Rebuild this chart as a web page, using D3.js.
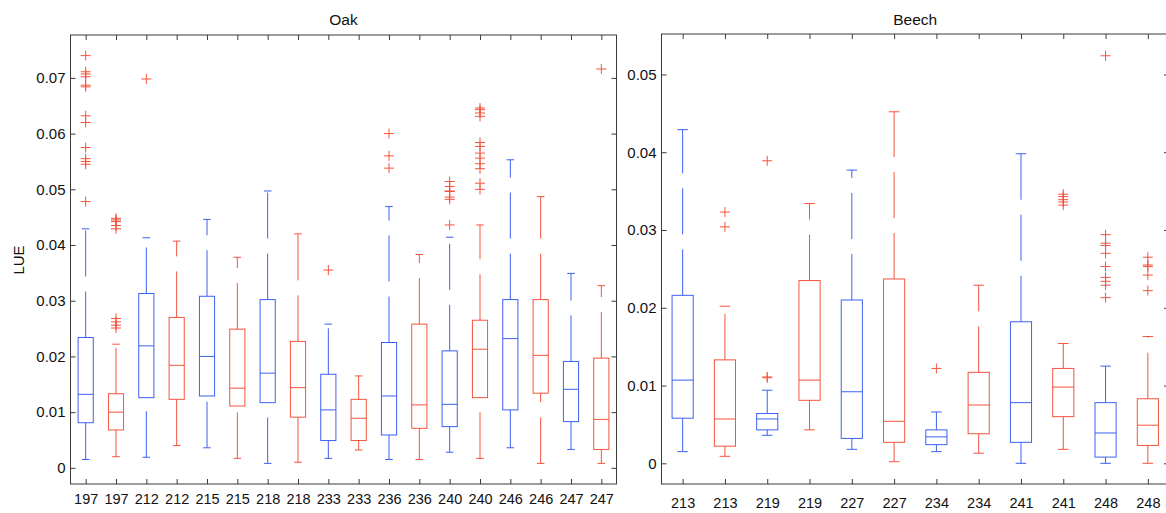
<!DOCTYPE html>
<html><head><meta charset="utf-8">
<script src="https://cdn.jsdelivr.net/npm/d3@7"></script>
<style>
body{margin:0;background:#fff}
svg{display:block}
text{font-family:"Liberation Sans",Arial,Helvetica,sans-serif;fill:#111}
</style>
</head><body>
<svg id="chart" width="1166" height="513"></svg>
<script>
// ---------- data ----------
const seriesKeys = ["first", "second"]; // alternating boxes
const seriesColors = ["#3d60f2", "#f5533d"];

const oakLabels = ["197","197","212","212","215","215","218","218","233","233","236","236","240","240","246","246","247","247"];
const oakLowAdj  = [0.0015,0.0020,0.0019,0.0040,0.0036,0.0017,0.0008,0.0010,0.0017,0.0032,0.0015,0.0015,0.0028,0.0017,0.0036,0.0008,0.0033,0.0008];
const oakQ1      = [0.0081,0.0068,0.0126,0.0123,0.0129,0.0111,0.0117,0.0091,0.0049,0.0049,0.0059,0.0071,0.0074,0.0126,0.0104,0.0134,0.0083,0.0033];
const oakMedian  = [0.0132,0.0100,0.0219,0.0184,0.0200,0.0143,0.0170,0.0144,0.0104,0.0089,0.0129,0.0113,0.0114,0.0213,0.0232,0.0202,0.0141,0.0087];
const oakQ3      = [0.0234,0.0133,0.0313,0.0270,0.0308,0.0249,0.0302,0.0227,0.0168,0.0123,0.0225,0.0258,0.0210,0.0265,0.0302,0.0302,0.0191,0.0197];
const oakHighAdj = [0.0429,0.0222,0.0413,0.0407,0.0446,0.0378,0.0497,0.0420,0.0258,0.0165,0.0469,0.0383,0.0414,0.0436,0.0553,0.0487,0.0349,0.0327];
const oakOutliers = [
  [0.0740,0.0711,0.0707,0.0702,0.0687,0.0684,0.0632,0.0620,0.0575,0.0555,0.0550,0.0545,0.0478],
  [0.0448,0.0445,0.0442,0.0435,0.0429,0.0268,0.0262,0.0256,0.0251],
  [0.0698],
  [], [], [], [], [],
  [0.0355],
  [],
  [0.0600,0.0560,0.0538],
  [],
  [0.0514,0.0505,0.0497,0.0496,0.0486,0.0482,0.0436],
  [0.0646,0.0643,0.0637,0.0631,0.0584,0.0577,0.0565,0.0556,0.0546,0.0537,0.0511,0.0500],
  [], [], [],
  [0.0716]
];
const oakYTicks = [0, 0.01, 0.02, 0.03, 0.04, 0.05, 0.06, 0.07];
const oakYTickLabels = ["0","0.01","0.02","0.03","0.04","0.05","0.06","0.07"];
const oakYDomain = [-0.0029, 0.0777];

const beechLabels = ["213","213","219","219","227","227","234","234","241","241","248","248"];
const beechLowAdj  = [0.0015,0.0009,0.0036,0.0043,0.0018,0.0002,0.0015,0.0013,0.0000,0.0018,0.0000,0.0000];
const beechQ1      = [0.0058,0.0022,0.0043,0.0081,0.0032,0.0027,0.0024,0.0038,0.0027,0.0060,0.0008,0.0023];
const beechMedian  = [0.0107,0.0057,0.0057,0.0107,0.0092,0.0054,0.0034,0.0075,0.0078,0.0098,0.0039,0.0049];
const beechQ3      = [0.0216,0.0133,0.0064,0.0235,0.0210,0.0237,0.0043,0.0117,0.0182,0.0122,0.0078,0.0083];
const beechHighAdj = [0.0429,0.0202,0.0094,0.0334,0.0377,0.0452,0.0066,0.0229,0.0398,0.0154,0.0125,0.0163];
const beechOutliers = [
  [],
  [0.0323,0.0304],
  [0.0389,0.0111,0.0110],
  [], [], [],
  [0.0122],
  [], [],
  [0.0346,0.0343,0.0339,0.0336,0.0332],
  [0.0524,0.0294,0.0283,0.0280,0.0270,0.0253,0.0239,0.0234,0.0229,0.0213],
  [0.0265,0.0255,0.0253,0.0242,0.0222]
];
const beechYTicks = [0, 0.01, 0.02, 0.03, 0.04, 0.05];
const beechYTickLabels = ["0","0.01","0.02","0.03","0.04","0.05"];
const beechYDomain = [-0.00266, 0.0552];

// ---------- drawing ----------
const svg = d3.select("#chart");
const axisColor = "#3a3a3a";
const color = d3.scaleOrdinal().domain(seriesKeys).range(seriesColors);

function drawPanel(cfg) {
  const n = cfg.labels.length;
  const top = cfg.top, bottom = 484;
  const x = d3.scaleLinear().domain([0.5, n + 0.5]).range([cfg.left, cfg.right]);
  const y = d3.scaleLinear().domain(cfg.yDomain).range([bottom, top]);
  const g = svg.append("g");
  const pos = d3.range(1, n + 1);
  const bw = 0.25, cw = 0.125;

  const boxes = pos.map((p, i) => ({
    p, i, key: seriesKeys[i % 2],
    lo: cfg.low[i], q1: cfg.q1[i], med: cfg.med[i], q3: cfg.q3[i], hi: cfg.high[i],
    out: cfg.outliers[i]
  }));

  const bg = g.selectAll("g.box").data(boxes).join("g").attr("class", "box")
    .attr("fill", "none").attr("stroke-width", 1);

  // whiskers (dashed, drawn bottom to top)
  bg.append("line")
    .attr("x1", d => x(d.p)).attr("x2", d => x(d.p))
    .attr("y1", d => y(d.q3)).attr("y2", d => y(d.hi))
    .attr("stroke", d => color(d.key)).attr("stroke-dasharray", "46,15");
  bg.append("line")
    .attr("x1", d => x(d.p)).attr("x2", d => x(d.p))
    .attr("y1", d => y(d.lo)).attr("y2", d => y(d.q1))
    .attr("stroke", d => color(d.key)).attr("stroke-dasharray", "46,15");
  // caps
  bg.append("line")
    .attr("x1", d => x(d.p - cw)).attr("x2", d => x(d.p + cw))
    .attr("y1", d => y(d.hi)).attr("y2", d => y(d.hi))
    .attr("stroke", d => color(d.key));
  bg.append("line")
    .attr("x1", d => x(d.p - cw)).attr("x2", d => x(d.p + cw))
    .attr("y1", d => y(d.lo)).attr("y2", d => y(d.lo))
    .attr("stroke", d => color(d.key));
  // box
  bg.append("rect")
    .attr("x", d => x(d.p - bw)).attr("width", d => x(d.p + bw) - x(d.p - bw))
    .attr("y", d => y(d.q3)).attr("height", d => y(d.q1) - y(d.q3))
    .attr("stroke", d => color(d.key));
  // median
  bg.append("line")
    .attr("x1", d => x(d.p - bw)).attr("x2", d => x(d.p + bw))
    .attr("y1", d => y(d.med)).attr("y2", d => y(d.med))
    .attr("stroke", d => color(d.key));
  // outliers
  bg.selectAll("path.out").data(d => d.out.map(v => ({p: d.p, v}))).join("path")
    .attr("class", "out")
    .attr("d", o => { const cx = x(o.p), cy = y(o.v);
      return `M${cx - 5},${cy}H${cx + 5}M${cx},${cy - 5}V${cy + 5}`; })
    .attr("stroke", seriesColors[1]).attr("fill", "none");

  // axes
  const styleAxis = sel => {
    sel.select(".domain").remove();
    sel.selectAll(".tick line").attr("stroke", axisColor);
    sel.selectAll(".tick text").attr("fill", "#111").attr("font-family", '"Liberation Sans",Arial,sans-serif');
  };
  g.append("g").attr("transform", `translate(${cfg.left},0)`)
    .call(d3.axisLeft(y).tickValues(cfg.yTicks).tickFormat((d, i) => cfg.yTickLabels[i]).tickSize(-5).tickPadding(5))
    .call(styleAxis).selectAll("text").attr("font-size", 15);
  g.append("g").attr("transform", `translate(${cfg.right},0)`)
    .call(d3.axisRight(y).tickValues(cfg.yTicks).tickFormat("").tickSize(-5))
    .call(styleAxis);
  g.append("g").attr("transform", `translate(0,${bottom})`)
    .call(d3.axisBottom(x).tickValues(pos).tickFormat((d, i) => cfg.labels[i]).tickSize(-5).tickPadding(cfg.xPad))
    .call(styleAxis).selectAll("text").attr("font-size", 14.5);
  g.append("g").attr("transform", `translate(0,${top})`)
    .call(d3.axisTop(x).tickValues(pos).tickFormat("").tickSize(-5))
    .call(styleAxis);
  g.append("rect").attr("x", cfg.left).attr("y", top)
    .attr("width", cfg.right - cfg.left).attr("height", bottom - top)
    .attr("fill", "none").attr("stroke", axisColor).attr("stroke-width", 1);

  g.append("text").attr("x", (cfg.left + cfg.right) / 2).attr("y", 25)
    .attr("text-anchor", "middle").attr("font-size", 15.5).text(cfg.title);
}

drawPanel({title: "Oak", labels: oakLabels, low: oakLowAdj, q1: oakQ1, med: oakMedian, q3: oakQ3,
  high: oakHighAdj, outliers: oakOutliers, yTicks: oakYTicks, yTickLabels: oakYTickLabels,
  yDomain: oakYDomain, left: 70.5, right: 616.5, top: 35, xPad: 10});
drawPanel({title: "Beech", labels: beechLabels, low: beechLowAdj, q1: beechQ1, med: beechMedian, q3: beechQ3,
  high: beechHighAdj, outliers: beechOutliers, yTicks: beechYTicks, yTickLabels: beechYTickLabels,
  yDomain: beechYDomain, left: 661.5, right: 1169, top: 34, xPad: 14});

svg.append("text").attr("transform", "translate(24,260) rotate(-90)")
  .attr("text-anchor", "middle").attr("font-size", 15).text("LUE");
</script>
</body></html>
